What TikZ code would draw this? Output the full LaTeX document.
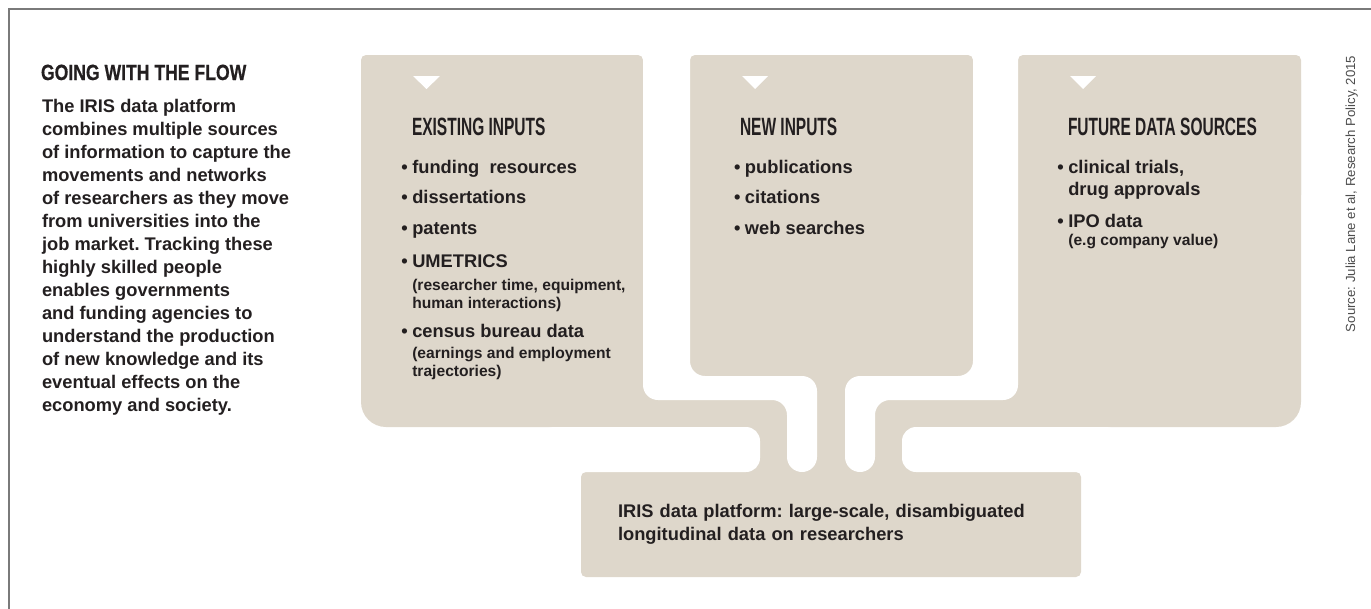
\documentclass[tikz,border=0pt]{standalone}
\usepackage{fontspec}
\setmainfont{Liberation Sans}
\newfontfamily\titlefont[FakeStretch=0.80,FakeBold=0.6]{Liberation Sans}
\newfontfamily\headfont[FakeStretch=0.62]{Liberation Sans}
\definecolor{sand}{HTML}{DED7CB}
\definecolor{ink}{HTML}{231F20}
\definecolor{srcgray}{HTML}{4D4D4D}
\definecolor{framegray}{HTML}{7A7A7A}
\newcommand\bul{\llap{•\hspace{4.5pt}}}
\frenchspacing
\begin{document}
\begin{tikzpicture}[x=1pt,y=-1pt,
  every node/.style={inner sep=0pt,outer sep=0pt,text=ink},
  title/.style={anchor=base west,font=\titlefont\bfseries\fontsize{22}{22}\selectfont},
  intro/.style={anchor=base west,font=\bfseries\fontsize{18.3}{23}\selectfont},
  boxhead/.style={anchor=base west,font=\headfont\bfseries\fontsize{25}{25}\selectfont},
  item/.style={anchor=base west,font=\bfseries\fontsize{18.3}{23}\selectfont},
  subitem/.style={anchor=base west,font=\bfseries\fontsize{15.6}{18}\selectfont},
  source/.style={anchor=base west,rotate=90,text=srcgray,font=\fontsize{13.2}{13.2}\selectfont},
  panel/.style={fill=sand},
  gap/.style={fill=white,rounded corners=15},
  marker/.style={fill=white},
  basebox/.style={fill=sand,rounded corners=5,anchor=north west,
    minimum width=500,minimum height=105,text width=426,inner xsep=37,
    align=left,font=\bfseries\fontsize{18.3}{23}\selectfont}]
\useasboundingbox (0,0) rectangle (1371,608);
\clip (0,0) rectangle (1371,608);

% outer frame
\draw[framegray,line width=2.4pt] (9.2,640) -- (9.2,9.2) -- (1400,9.2);

% three source panels
\fill[panel,rounded corners=25] (361,55) rectangle (643,427);
\fill[panel,rounded corners=5]  (361,55) rectangle (643,200);
\fill[panel,rounded corners=18] (690,55) rectangle (973,376);
\fill[panel,rounded corners=5]  (690,55) rectangle (973,200);
\fill[panel,rounded corners=25] (1018,55) rectangle (1301,427);
\fill[panel,rounded corners=5]  (1018,55) rectangle (1301,200);
% joint region carrying the three stems
\fill[panel] (600,300) rectangle (1060,480);

% platform box at the bottom
\node[basebox] (platform) at (581,472)
  {IRIS data platform: large-scale, disambiguated\\longitudinal data on researchers};

% white channels separating the stems
\fill[gap] (643,20) -- (690,20) -- (690,376) -- (817,376) -- (817,472)
  -- (787,472) -- (787,400) -- (643,400) -- cycle;
\fill[gap] (973,20) -- (1018,20) -- (1018,400) -- (875,400) -- (875,472)
  -- (845,472) -- (845,376) -- (973,376) -- cycle;
\fill[gap,rounded corners=14] (540,427) rectangle (760,472);
\fill[gap,rounded corners=14] (902,427) rectangle (1120,472);

% downward markers
\fill[marker] (413,76) -- (440,76) -- (426.5,89) -- cycle;
\fill[marker] (742,76) -- (768,76) -- (755,89) -- cycle;
\fill[marker] (1070,76) -- (1096,76) -- (1083,89) -- cycle;

% left column
\node[title] (title) at (41,80) {GOING WITH THE FLOW};
\foreach \t [count=\i from 0] in {The IRIS data platform,combines multiple sources,
  of information to capture the,movements and networks,of researchers as they move,
  from universities into the,job market. Tracking these,highly skilled people,
  enables governments,and funding agencies to,understand the production,
  of new knowledge and its,eventual effects on the,economy and society.}
  \node[intro] (intro-\i) at (42,112+23*\i) {\t};

% existing inputs
\node[boxhead] (head-existing) at (412,135) {EXISTING INPUTS};
\node[item] (ex-1) at (412.3,173) {\bul funding\ \ resources};
\node[item] (ex-2) at (412.3,203.5) {\bul dissertations};
\node[item] (ex-3) at (412.3,234) {\bul patents};
\node[item] (ex-4) at (412.3,267) {\bul UMETRICS};
\node[subitem] (ex-4a) at (412.3,290) {(researcher time, equipment,};
\node[subitem] (ex-4b) at (412.3,308) {human interactions)};
\node[item] (ex-5) at (412.3,337) {\bul census bureau data};
\node[subitem] (ex-5a) at (412.3,358) {(earnings and employment};
\node[subitem] (ex-5b) at (412.3,376) {trajectories)};

% new inputs
\node[boxhead] (head-new) at (740,135) {NEW INPUTS};
\node[item] (nw-1) at (745,173) {\bul publications};
\node[item] (nw-2) at (745,203.5) {\bul citations};
\node[item] (nw-3) at (745,234) {\bul web searches};

% future data sources
\node[boxhead] (head-future) at (1068,135) {FUTURE DATA SOURCES};
\node[item] (fu-1) at (1068.3,173) {\bul clinical trials,};
\node[item] (fu-1b) at (1068.3,195) {drug approvals};
\node[item] (fu-2) at (1068.3,227) {\bul IPO data};
\node[subitem] (fu-2a) at (1068.3,245) {(e.g company value)};

% credit line
\node[source] (credit) at (1355,332) {Source: Julia Lane et al, Research Policy, 2015};
\end{tikzpicture}
\end{document}
